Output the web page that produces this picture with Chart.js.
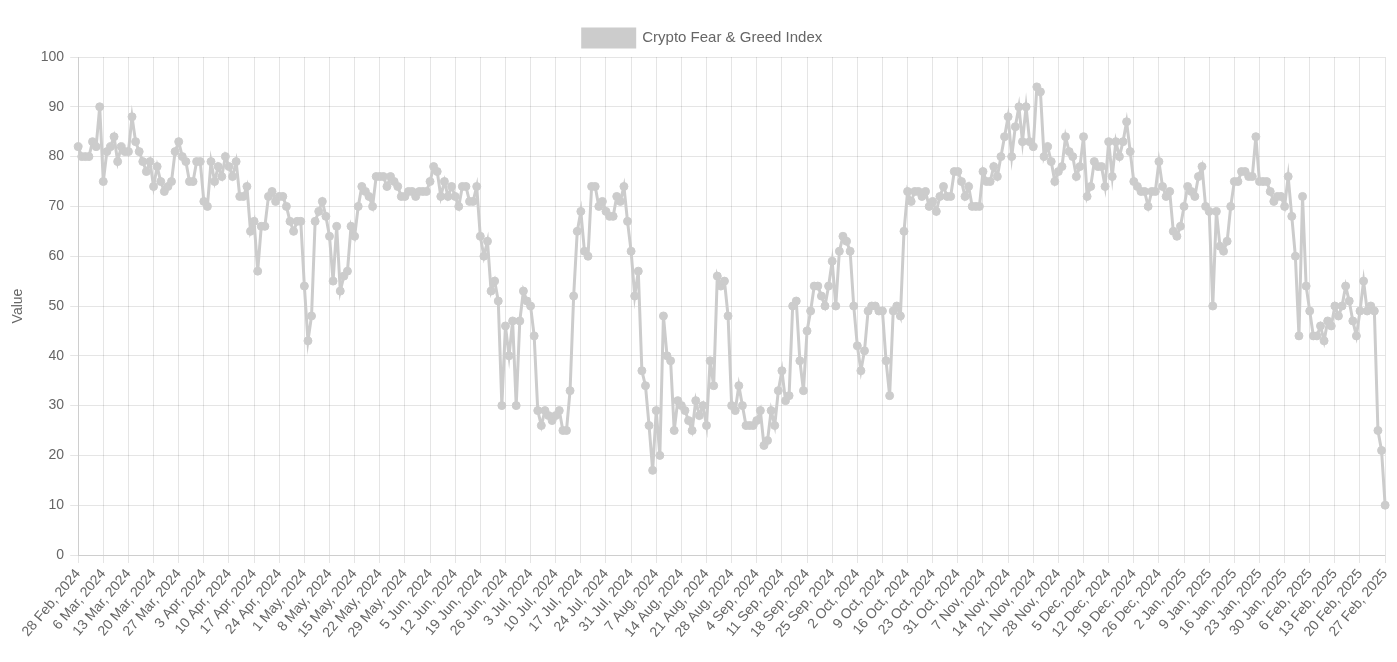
<!DOCTYPE html>
<html>
<head>
<meta charset="utf-8">
<title>Crypto Fear & Greed Index</title>
<script src="https://cdn.jsdelivr.net/npm/chart.js"></script>
<style>
  body { margin: 0; background: #fff; overflow: hidden; }
  #wrap { position: absolute; left: 4px; top: 19px; width: 1397px; height: 625px; }
</style>
</head>
<body>
<div id="wrap"><canvas id="grafico"></canvas></div>
<script>
// daily values, one row per week (starts 28 Feb 2024)
const fearGreed = [
  82, 80, 80, 80, 83, 82, 90,
  75, 81, 82, 84, 79, 82, 81,
  81, 88, 83, 81, 79, 77, 79,
  74, 78, 75, 73, 74, 75, 81,
  83, 80, 79, 75, 75, 79, 79,
  71, 70, 79, 75, 78, 76, 80,
  78, 76, 79, 72, 72, 74, 65,
  67, 57, 66, 66, 72, 73, 71,
  72, 72, 70, 67, 65, 67, 67,
  54, 43, 48, 67, 69, 71, 68,
  64, 55, 66, 53, 56, 57, 66,
  64, 70, 74, 73, 72, 70, 76,
  76, 76, 74, 76, 75, 74, 72,
  72, 73, 73, 72, 73, 73, 73,
  75, 78, 77, 72, 75, 72, 74,
  72, 70, 74, 74, 71, 71, 74,
  64, 60, 63, 53, 55, 51, 30,
  46, 40, 47, 30, 47, 53, 51,
  50, 44, 29, 26, 29, 28, 27,
  28, 29, 25, 25, 33, 52, 65,
  69, 61, 60, 74, 74, 70, 71,
  69, 68, 68, 72, 71, 74, 67,
  61, 52, 57, 37, 34, 26, 17,
  29, 20, 48, 40, 39, 25, 31,
  30, 29, 27, 25, 31, 28, 30,
  26, 39, 34, 56, 54, 55, 48,
  30, 29, 34, 30, 26, 26, 26,
  27, 29, 22, 23, 29, 26, 33,
  37, 31, 32, 50, 51, 39, 33,
  45, 49, 54, 54, 52, 50, 54,
  59, 50, 61, 64, 63, 61, 50,
  42, 37, 41, 49, 50, 50, 49,
  49, 39, 32, 49, 50, 48, 65,
  73, 71, 73, 73, 72, 73, 70,
  71, 69, 72, 74, 72, 72, 77,
  77, 75, 72, 74, 70, 70, 70,
  77, 75, 75, 78, 76, 80, 84,
  88, 80, 86, 90, 83, 90, 83,
  82, 94, 93, 80, 82, 79, 75,
  77, 78, 84, 81, 80, 76, 78,
  84, 72, 74, 79, 78, 78, 74,
  83, 76, 83, 80, 83, 87, 81,
  75, 74, 73, 73, 70, 73, 73,
  79, 74, 72, 73, 65, 64, 66,
  70, 74, 73, 72, 76, 78, 70,
  69, 50, 69, 62, 61, 63, 70,
  75, 75, 77, 77, 76, 76, 84,
  75, 75, 75, 73, 71, 72, 72,
  70, 76, 68, 60, 44, 72, 54,
  49, 44, 44, 46, 43, 47, 46,
  50, 48, 50, 54, 51, 47, 44,
  49, 55, 49, 50, 49, 25, 21,
  10
];

const yTicks = [0, 10, 20, 30, 40, 50, 60, 70, 80, 90, 100];
const months = ['Jan', 'Feb', 'Mar', 'Apr', 'May', 'Jun', 'Jul', 'Aug', 'Sep', 'Oct', 'Nov', 'Dec'];
const missingDays = ['2024-10-26']; // gap in the source data

// date categories
const dates = [];
const d = new Date(2024, 1, 28);
while (dates.length < fearGreed.length) {
  const key = d.getFullYear() + '-' + String(d.getMonth() + 1).padStart(2, '0') + '-' + String(d.getDate()).padStart(2, '0');
  if (!missingDays.includes(key)) {
    dates.push(d.getDate() + ' ' + months[d.getMonth()] + ', ' + d.getFullYear());
  }
  d.setDate(d.getDate() + 1);
}

Chart.defaults.font.family = "'Liberation Sans', Arial, sans-serif";
Chart.defaults.font.size = 14;
Chart.defaults.color = '#666';

const ctx = document.getElementById('grafico').getContext('2d');
new Chart(ctx, {
  type: 'line',
  data: {
    labels: dates,
    datasets: [{
      label: 'Crypto Fear & Greed Index',
      data: fearGreed,
      borderColor: '#cccccc',
      backgroundColor: '#cccccc',
      borderWidth: 3,
      pointRadius: 4,
      pointBorderWidth: 1,
      tension: 0
    }]
  },
  options: {
    responsive: true,
    maintainAspectRatio: false,
    animation: false,
    plugins: {
      legend: {
        labels: { boxWidth: 52, boxHeight: 18, font: { size: 15 } }
      },
      tooltip: { enabled: false }
    },
    scales: {
      x: {
        ticks: { autoSkip: false, minRotation: 50, maxRotation: 50 },
        afterBuildTicks: (scale) => {
          scale.ticks = scale.ticks.filter((t, i) => i % 7 === 0);
        }
      },
      y: {
        min: yTicks[0],
        max: yTicks[yTicks.length - 1],
        ticks: { stepSize: 10, padding: 6 },
        title: { display: true, text: 'Value', padding: { top: 6, bottom: 8 } }
      }
    }
  }
});
</script>
</body>
</html>
